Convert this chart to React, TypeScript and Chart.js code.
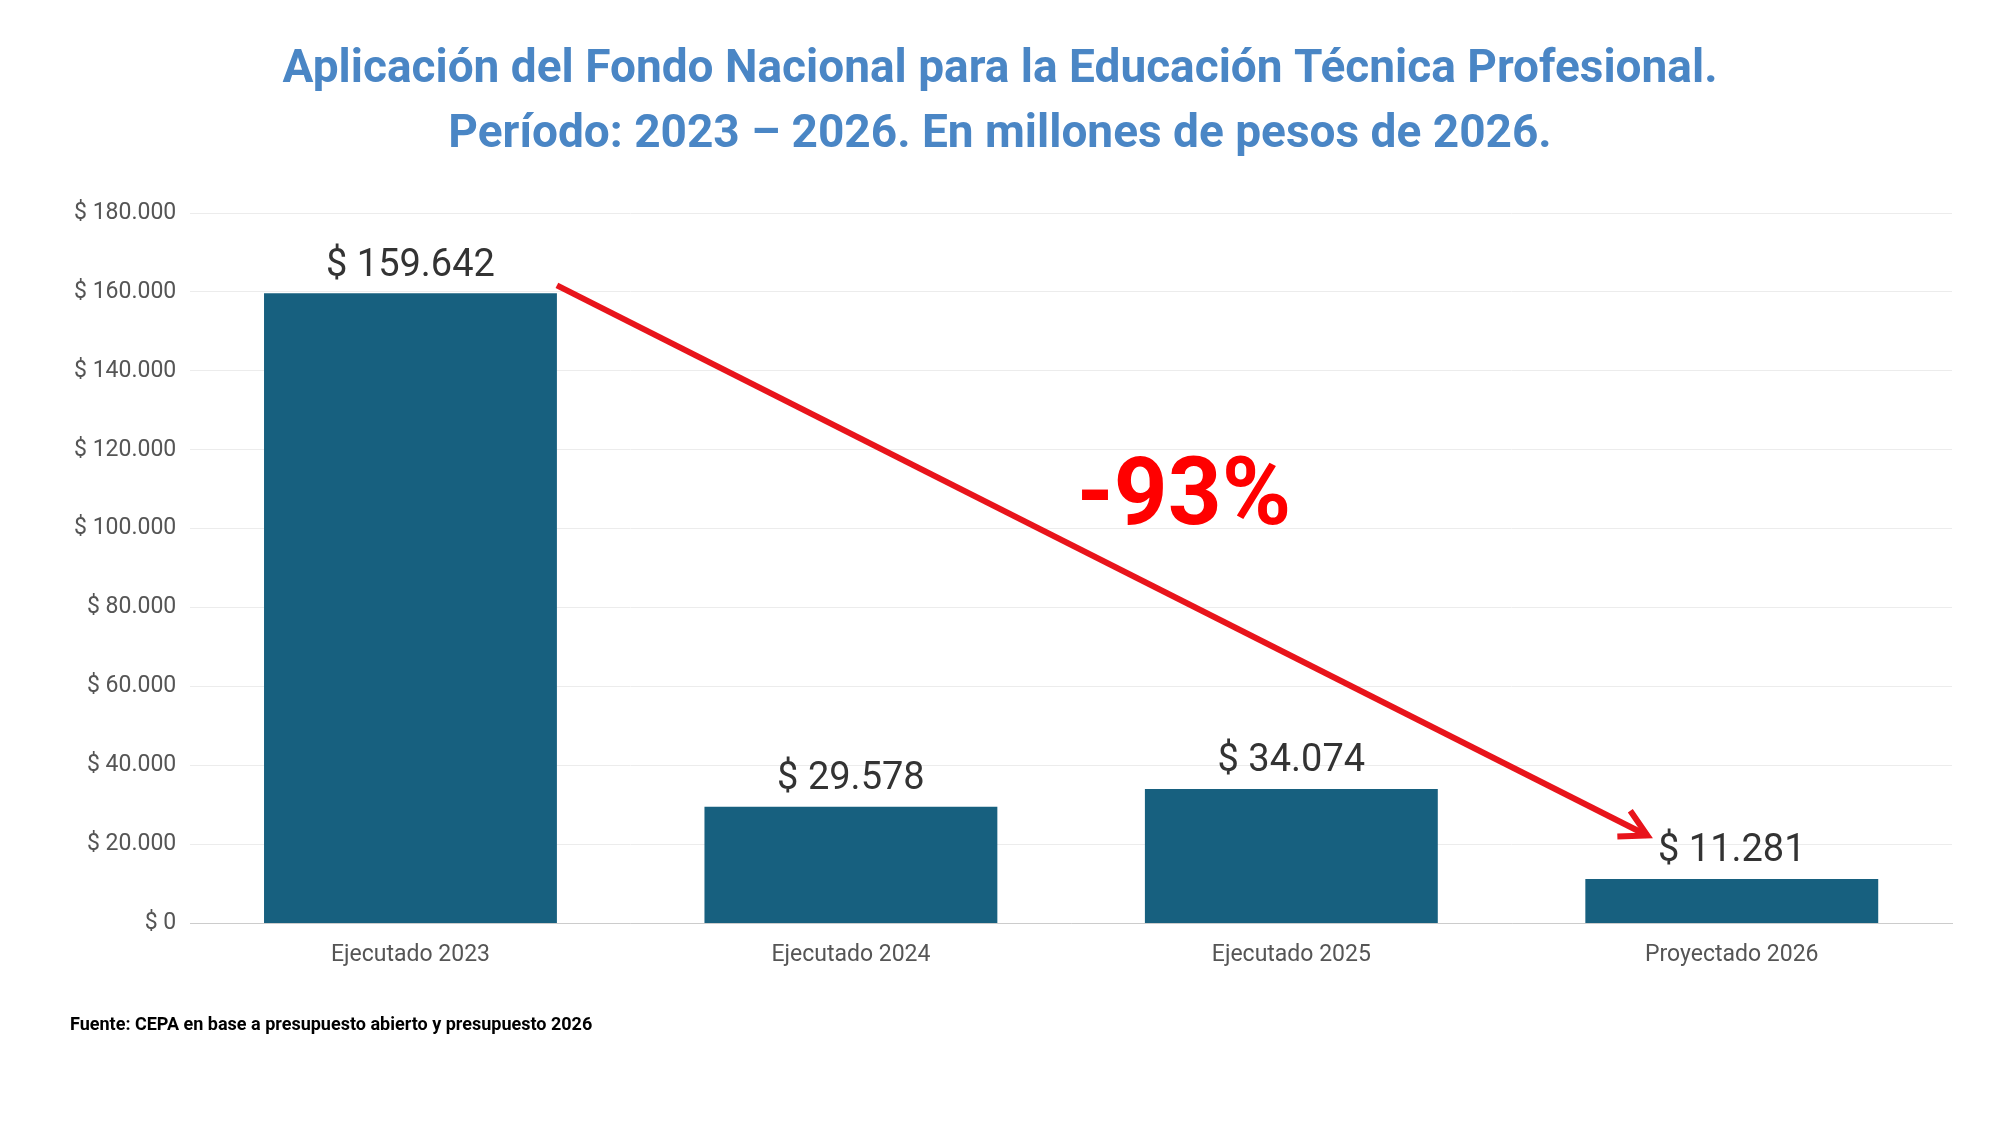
import React, { useEffect, useRef } from "react";
import { Chart, registerables } from "chart.js";
Chart.register(...registerables);

const categories = ["Ejecutado 2023", "Ejecutado 2024", "Ejecutado 2025", "Proyectado 2026"];
const values = [159642, 29578, 34074, 11281];
const titleLines = ["Aplicación del Fondo Nacional para la Educación Técnica Profesional.", "Período: 2023 – 2026. En millones de pesos de 2026."];
const source = "Fuente: CEPA en base a presupuesto abierto y presupuesto 2026";
const changeLabel = "-93%";

const fmt = (v: number) => "$ " + Math.round(v).toString().replace(/\B(?=(\d{3})+(?!\d))/g, ".");

export default function App() {
  const ref = useRef<HTMLCanvasElement>(null);
  useEffect(() => {
    document.body.style.margin = "0";
    const overlay = {
      id: "overlay",
      afterDatasetsDraw(chart: any) {
        const ctx = chart.ctx;
        const meta = chart.getDatasetMeta(0);
        const y = chart.scales.y;
        ctx.save();
        ctx.textAlign = "center";
        ctx.fillStyle = "#4a86c5";
        ctx.font = "bold 46px Roboto";
        ctx.textBaseline = "middle";
        ctx.fillText(titleLines[0], 1000, 70);
        ctx.fillText(titleLines[1], 1000, 135);
        ctx.fillStyle = "#333";
        ctx.font = "38px Roboto";
        ctx.textBaseline = "bottom";
        meta.data.forEach((b: any, i: number) => ctx.fillText(fmt(values[i]), b.x, b.y - 8));
        ctx.textAlign = "left";
        ctx.textBaseline = "middle";
        ctx.fillStyle = "#000";
        ctx.font = "bold 18px Roboto";
        ctx.fillText(source, 70, 1025);
        // arrow
        const b0 = meta.data[0], b3 = meta.data[3];
        const x1 = b0.x + b0.width / 2, y1 = y.getPixelForValue(values[0]) - 8;
        const x2 = b3.x - b3.width / 2 + 62, y2 = y.getPixelForValue(values[3] + 11000);
        ctx.strokeStyle = "#e8141b";
        ctx.lineWidth = 6;
        ctx.beginPath();
        ctx.moveTo(x1, y1);
        ctx.lineTo(x2, y2);
        ctx.stroke();
        const ang = Math.atan2(y2 - y1, x2 - x1);
        ctx.beginPath();
        ctx.moveTo(x2 - 30 * Math.cos(ang - 0.5), y2 - 30 * Math.sin(ang - 0.5));
        ctx.lineTo(x2, y2);
        ctx.lineTo(x2 - 30 * Math.cos(ang + 0.5), y2 - 30 * Math.sin(ang + 0.5));
        ctx.stroke();
        ctx.fillStyle = "#f00";
        ctx.font = "bold 94px Roboto";
        ctx.textAlign = "center";
        ctx.fillText(changeLabel, 1184, 500);
        ctx.restore();
      },
    };
    const chart = new Chart(ref.current!, {
      type: "bar",
      data: { labels: categories, datasets: [{ data: values, backgroundColor: "#17607f", barPercentage: 0.665, categoryPercentage: 1 }] },
      options: {
        animation: false,
        responsive: false,
        layout: { padding: { top: 213, bottom: 146, left: 60, right: 48 } },
        plugins: { legend: { display: false }, tooltip: { enabled: false } },
        scales: {
          y: {
            min: 0, max: 180000,
            ticks: { stepSize: 20000, callback: (v: any) => fmt(v), font: { family: "Roboto", size: 23 }, color: "#555", padding: 14 },
            grid: { color: "#ececec", drawTicks: false },
            border: { display: false },
          },
          x: {
            ticks: { font: { family: "Roboto", size: 23 }, color: "#555", padding: 10 },
            grid: { display: false },
            border: { color: "#ccc" },
          },
        },
      },
      plugins: [overlay],
    });
    return () => chart.destroy();
  }, []);
  return <canvas ref={ref} width={2000} height={1125} style={{ display: "block" }} />;
}
